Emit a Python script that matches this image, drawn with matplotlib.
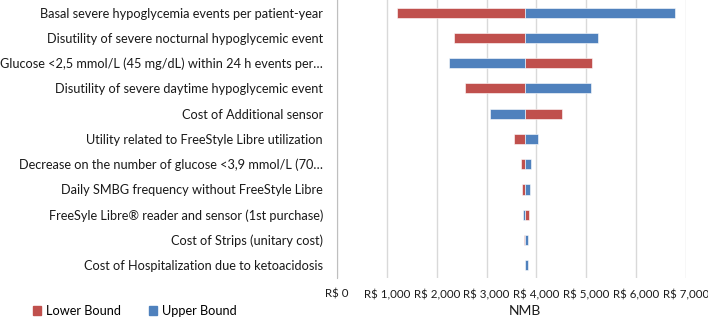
import matplotlib.pyplot as plt
from matplotlib.patches import Patch
from matplotlib.ticker import FuncFormatter

plt.rcParams['font.family'] = ['Lato', 'DejaVu Sans']

# Parameters (top to bottom) and NMB at lower / upper bound of each
params = [
    "Basal severe hypoglycemia events per patient-year",
    "Disutility of severe nocturnal hypoglycemic event",
    "Glucose <2,5 mmol/L (45 mg/dL) within 24 h events per\u2026",
    "Disutility of severe daytime hypoglycemic event",
    "Cost of Additional sensor",
    "Utility related to FreeStyle Libre utilization",
    "Decrease on the number of glucose <3,9 mmol/L (70\u2026",
    "Daily SMBG frequency without FreeStyle Libre",
    "FreeSyle Libre\u00ae reader and sensor (1st purchase)",
    "Cost of Strips (unitary cost)",
    "Cost of Hospitalization due to ketoacidosis",
]
base_nmb = 3780
lower_nmb = [1205, 2349, 5120, 2564, 4518, 3548, 3681, 3709, 3849, 3755, 3780]
upper_nmb = [6773, 5235, 2255, 5100, 3066, 4030, 3896, 3869, 3735, 3829, 3835]

red = '#C0504D'
blue = '#4F81BD'

fig = plt.figure(figsize=(7.08, 3.22), dpi=100)
ax = fig.add_axes([0.476, 0.137, 0.493, 0.863])

y = range(len(params))
ax.barh(y, [v - base_nmb for v in lower_nmb], left=base_nmb, height=0.4,
        color=red, edgecolor='white', linewidth=0.4, zorder=3)
ax.barh(y, [v - base_nmb for v in upper_nmb], left=base_nmb, height=0.4,
        color=blue, edgecolor='white', linewidth=0.4, zorder=3)

ax.set_ylim(len(params) - 0.5, -0.5)
ax.set_xlim(0, 7000)
ax.set_xticks(range(0, 7001, 1000))
ax.xaxis.set_major_formatter(FuncFormatter(lambda v, p: f"R$ {int(v):,}"))
ax.set_yticks(list(y))
ax.set_yticklabels(params)
ax.tick_params(axis='both', length=0, colors='#1a1a1a')
ax.tick_params(axis='y', pad=10, labelsize=9.2)
ax.tick_params(axis='x', pad=8, labelsize=8.3)
ax.grid(axis='x', color='#D9D9D9', linewidth=1, zorder=0)
for s in ['top', 'right', 'bottom']:
    ax.spines[s].set_visible(False)
ax.spines['left'].set_color('#BFBFBF')
ax.spines['left'].set_zorder(4)

fig.text(525 / 708, 1 - 311 / 322, "NMB", ha='center', va='center', fontsize=10, color='#1a1a1a')

handles = [Patch(color=red, label='Lower Bound'), Patch(color=blue, label='Upper Bound')]
fig.legend(handles=handles, loc='center left', bbox_to_anchor=(0.047, 1 - 311 / 322),
           ncol=2, frameon=False, fontsize=9.2, handlelength=0.6, handleheight=0.6,
           handletextpad=0.4, columnspacing=2.2, borderaxespad=0, borderpad=0)

fig.savefig('out.png', dpi=100)
